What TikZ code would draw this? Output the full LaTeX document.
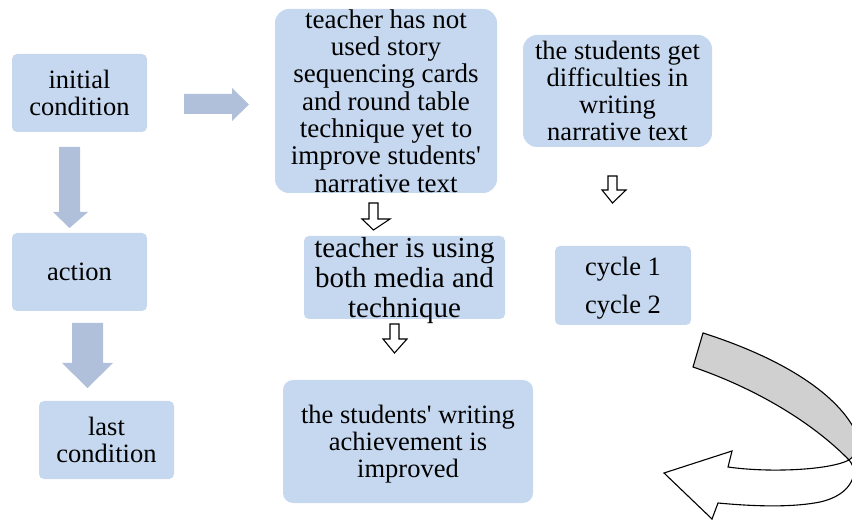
\documentclass[tikz,border=0pt]{standalone}
\usepackage{fontspec}
\setmainfont{Liberation Serif}[Ligatures=TeXOff]
\definecolor{boxblue}{HTML}{C6D8EF}
\definecolor{arrblue}{HTML}{B0BFDA}
\definecolor{bandgray}{HTML}{D0D0D0}
\begin{document}
\begin{tikzpicture}[x=1pt,y=-1pt,
  box/.style={fill=boxblue, draw=none, rounded corners=5pt, align=center, inner sep=0pt, font=\fontsize{26.5}{27}\selectfont},
  bigbox/.style={box, rounded corners=14pt},
  blockarrow/.style={fill=arrblue, draw=none},
  outarrow/.style={fill=white, draw=black, line width=1.1pt, line join=miter},
  band/.style={draw=black, line width=1.1pt, line join=miter}]
\useasboundingbox (0,0) rectangle (852,521);
\clip (0,0) rectangle (852,521);

% left column
\node[box, minimum width=135pt, minimum height=78pt] (init) at (79.5,93) {initial\\condition};
\node[box, minimum width=135pt, minimum height=78pt] (action) at (79.5,272) {action};
\node[box, minimum width=135pt, minimum height=78pt] (last) at (106.5,440) {last\\condition};

% middle / right
\node[bigbox, minimum width=222pt, minimum height=184pt, font=\fontsize{27}{27.3}\selectfont] (teach) at (386,101) {teacher has not\\used story\\sequencing cards\\and round table\\technique yet to\\improve students'\\narrative text};
\node[bigbox, minimum width=189pt, minimum height=112pt] (diff) at (617.5,91) {the students get\\difficulties in\\writing\\narrative text};
\node[box, minimum width=201pt, minimum height=83pt] (using) at (404.5,277.5) {};
\node[font=\fontsize{29}{30}\selectfont, align=center, inner sep=0pt] (usingtxt) at ([yshift=-3pt]using.center) {teacher is using\\both media and\\technique};
\node[box, minimum width=136pt, minimum height=79pt] (cycle) at (623,285.5) {};
\node[font=\fontsize{26.5}{38}\selectfont, align=center, inner sep=0pt] (cycletxt) at ([yshift=-3pt]cycle.center) {cycle 1\\cycle 2};
\node[bigbox, minimum width=250pt, minimum height=123pt, rounded corners=10pt] (achv) at (408,441.5) {};
\node[font=\fontsize{26.5}{27}\selectfont, align=center, inner sep=0pt] (achvtxt) at ([yshift=-3pt]achv.center) {the students' writing\\achievement is\\improved};

% block arrows
\draw[blockarrow] (184,94) -- (232,94) -- (232,88) -- (249,104.5) -- (232,121) -- (232,114) -- (184,114) -- cycle;
\draw[blockarrow] (59,147) -- (80,147) -- (80,212) -- (88,212) -- (69.5,228) -- (53,212) -- (59,212) -- cycle;
\draw[blockarrow] (72,323) -- (103,323) -- (103,363) -- (113,363) -- (87.5,388) -- (62,363) -- (72,363) -- cycle;

% outlined small arrows
\draw[outarrow] (369,203) -- (378,203) -- (378,219) -- (390,219) -- (373.5,230) -- (362,219) -- (369,219) -- cycle;
\draw[outarrow] (608,176) -- (617,176) -- (617,190) -- (626,190) -- (612.5,203) -- (602,190) -- (608,190) -- cycle;
\draw[outarrow] (390,324) -- (399,324) -- (399,339) -- (407,339) -- (394.5,353) -- (383,339) -- (390,339) -- cycle;

% curved arrow
\draw[band, fill=bandgray] (703,333) .. controls (775,356) and (835,390) .. (856,432) .. controls (860,445) and (856,455) .. (849,460) .. controls (815,425) and (760,390) .. (693,367) -- cycle;
\draw[band, fill=white] (849,460) .. controls (860,472) and (852,495) .. (820,502) .. controls (790,508) and (750,506) .. (718,503) -- (712,519) -- (664,473) -- (732,451) -- (728,467) .. controls (770,473) and (830,470) .. (849,460) -- cycle;
\end{tikzpicture}
\end{document}
